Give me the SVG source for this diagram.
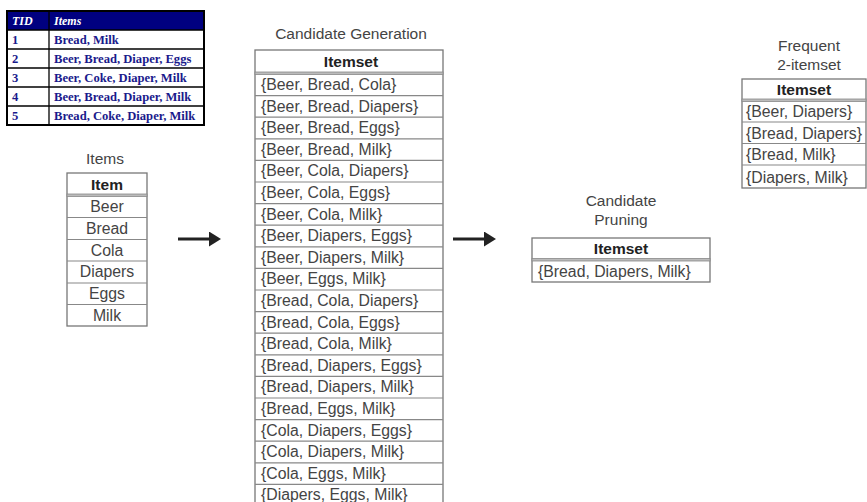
<svg xmlns="http://www.w3.org/2000/svg" width="867" height="502" viewBox="0 0 867 502">
  <style>
    .t { font-family: "Liberation Sans", Arial, sans-serif; font-size: 15.8px; fill: #444; }
    .title { font-family: "Liberation Sans", Arial, sans-serif; font-size: 15.5px; fill: #444; text-anchor: middle; }
    .hd { font-family: "Liberation Sans", Arial, sans-serif; font-size: 15.5px; font-weight: bold; fill: #222; text-anchor: middle; }
    .c { text-anchor: middle; }
    .frame { fill: #fff; stroke: #777; stroke-width: 1.3; }
    .row { stroke: #888; stroke-width: 1.2; }
    .dbl { fill: #bbb; stroke: #888; stroke-width: 0.8; }
    .tid { font-family: "Liberation Serif", "Times New Roman", serif; font-size: 12.6px; font-weight: bold; fill: #1a1a8c; }
    .tidh { font-family: "Liberation Serif", "Times New Roman", serif; font-size: 12px; font-weight: bold; font-style: italic; fill: #fff; }
    .tline { stroke: #000; stroke-width: 1.3; }
    .arrow { stroke: #222; stroke-width: 3; fill: none; }
  </style>
  <defs>
    <marker id="head" markerWidth="5" markerHeight="5" refX="1" refY="2.5" orient="auto" markerUnits="strokeWidth">
      <path d="M0,0 L4,2.5 L0,5 z" fill="#222"/>
    </marker>
  </defs>

  <!-- Transaction table -->
  <g id="transactions">
    <rect x="7" y="11" width="197" height="114" fill="#fff" stroke="#000" stroke-width="2"/>
    <rect x="8" y="12" width="195" height="18" fill="#000080"/>
    <line class="tline" x1="8" y1="30" x2="203" y2="30"/>
    <line class="tline" x1="8" y1="49" x2="203" y2="49"/>
    <line class="tline" x1="8" y1="68" x2="203" y2="68"/>
    <line class="tline" x1="8" y1="87" x2="203" y2="87"/>
    <line class="tline" x1="8" y1="106" x2="203" y2="106"/>
    <line class="tline" x1="49" y1="12" x2="49" y2="124"/>
    <text class="tidh" x="12" y="24.5">TID</text>
    <text class="tidh" x="54" y="24.5">Items</text>
    <text class="tid" x="12" y="43.5">1</text>
    <text class="tid" x="54" y="43.5">Bread, Milk</text>
    <text class="tid" x="12" y="62.5">2</text>
    <text class="tid" x="54" y="62.5">Beer, Bread, Diaper, Eggs</text>
    <text class="tid" x="12" y="81.5">3</text>
    <text class="tid" x="54" y="81.5">Beer, Coke, Diaper, Milk</text>
    <text class="tid" x="12" y="100.5">4</text>
    <text class="tid" x="54" y="100.5">Beer, Bread, Diaper, Milk</text>
    <text class="tid" x="12" y="119.5">5</text>
    <text class="tid" x="54" y="119.5">Bread, Coke, Diaper, Milk</text>
  </g>

  <!-- Items (1-itemsets) -->
  <g id="items">
    <text class="title" x="105" y="164">Items</text>
    <rect class="frame" x="67" y="173" width="80" height="153"/>
    <rect class="dbl" x="67" y="194" width="80" height="2.5"/>
    <line class="row" x1="67" y1="217.5" x2="147" y2="217.5"/>
    <line class="row" x1="67" y1="239.5" x2="147" y2="239.5"/>
    <line class="row" x1="67" y1="261" x2="147" y2="261"/>
    <line class="row" x1="67" y1="283" x2="147" y2="283"/>
    <line class="row" x1="67" y1="304.5" x2="147" y2="304.5"/>
    <text class="hd" x="107" y="190">Item</text>
    <text class="t c" x="107" y="212">Beer</text>
    <text class="t c" x="107" y="234">Bread</text>
    <text class="t c" x="107" y="256">Cola</text>
    <text class="t c" x="107" y="277">Diapers</text>
    <text class="t c" x="107" y="299">Eggs</text>
    <text class="t c" x="107" y="321">Milk</text>
  </g>

  <!-- Candidate generation -->
  <g id="generation">
    <text class="title" x="351" y="39">Candidate Generation</text>
    <rect class="frame" x="255" y="50" width="188" height="460"/>
    <rect class="dbl" x="255" y="72" width="188" height="2.5"/>
    <g class="row">
      <line x1="255" y1="95.6" x2="443" y2="95.6"/>
      <line x1="255" y1="117.2" x2="443" y2="117.2"/>
      <line x1="255" y1="138.8" x2="443" y2="138.8"/>
      <line x1="255" y1="160.4" x2="443" y2="160.4"/>
      <line x1="255" y1="182" x2="443" y2="182"/>
      <line x1="255" y1="203.6" x2="443" y2="203.6"/>
      <line x1="255" y1="225.2" x2="443" y2="225.2"/>
      <line x1="255" y1="246.8" x2="443" y2="246.8"/>
      <line x1="255" y1="268.4" x2="443" y2="268.4"/>
      <line x1="255" y1="290" x2="443" y2="290"/>
      <line x1="255" y1="311.6" x2="443" y2="311.6"/>
      <line x1="255" y1="333.2" x2="443" y2="333.2"/>
      <line x1="255" y1="354.8" x2="443" y2="354.8"/>
      <line x1="255" y1="376.4" x2="443" y2="376.4"/>
      <line x1="255" y1="398" x2="443" y2="398"/>
      <line x1="255" y1="419.6" x2="443" y2="419.6"/>
      <line x1="255" y1="441.2" x2="443" y2="441.2"/>
      <line x1="255" y1="462.8" x2="443" y2="462.8"/>
      <line x1="255" y1="484.4" x2="443" y2="484.4"/>
    </g>
    <text class="hd" x="351" y="67">Itemset</text>
    <text class="t" x="261" y="90">{Beer, Bread, Cola}</text>
    <text class="t" x="261" y="111.6">{Beer, Bread, Diapers}</text>
    <text class="t" x="261" y="133.2">{Beer, Bread, Eggs}</text>
    <text class="t" x="261" y="154.8">{Beer, Bread, Milk}</text>
    <text class="t" x="261" y="176.4">{Beer, Cola, Diapers}</text>
    <text class="t" x="261" y="198">{Beer, Cola, Eggs}</text>
    <text class="t" x="261" y="219.6">{Beer, Cola, Milk}</text>
    <text class="t" x="261" y="241.2">{Beer, Diapers, Eggs}</text>
    <text class="t" x="261" y="262.8">{Beer, Diapers, Milk}</text>
    <text class="t" x="261" y="284.4">{Beer, Eggs, Milk}</text>
    <text class="t" x="261" y="306">{Bread, Cola, Diapers}</text>
    <text class="t" x="261" y="327.6">{Bread, Cola, Eggs}</text>
    <text class="t" x="261" y="349.2">{Bread, Cola, Milk}</text>
    <text class="t" x="261" y="370.8">{Bread, Diapers, Eggs}</text>
    <text class="t" x="261" y="392.4">{Bread, Diapers, Milk}</text>
    <text class="t" x="261" y="414">{Bread, Eggs, Milk}</text>
    <text class="t" x="261" y="435.6">{Cola, Diapers, Eggs}</text>
    <text class="t" x="261" y="457.2">{Cola, Diapers, Milk}</text>
    <text class="t" x="261" y="478.8">{Cola, Eggs, Milk}</text>
    <text class="t" x="261" y="500.4">{Diapers, Eggs, Milk}</text>
  </g>

  <!-- Candidate pruning -->
  <g id="pruning">
    <text class="title" x="621" y="206">Candidate</text>
    <text class="title" x="621" y="225">Pruning</text>
    <rect class="frame" x="532" y="238" width="178" height="44"/>
    <rect class="dbl" x="532" y="258.5" width="178" height="2.5"/>
    <text class="hd" x="621" y="254">Itemset</text>
    <text class="t" x="538" y="276.5">{Bread, Diapers, Milk}</text>
  </g>

  <!-- Frequent 2-itemsets -->
  <g id="frequent">
    <text class="title" x="809" y="51">Frequent</text>
    <text class="title" x="809" y="70">2-itemset</text>
    <rect class="frame" x="742" y="79" width="124" height="109"/>
    <rect class="dbl" x="742" y="99" width="124" height="2.5"/>
    <line class="row" x1="742" y1="122" x2="866" y2="122"/>
    <line class="row" x1="742" y1="143.5" x2="866" y2="143.5"/>
    <line class="row" x1="742" y1="165" x2="866" y2="165"/>
    <text class="hd" x="804" y="95">Itemset</text>
    <text class="t" x="746" y="117">{Beer, Diapers}</text>
    <text class="t" x="746" y="138.5">{Bread, Diapers}</text>
    <text class="t" x="746" y="160">{Bread, Milk}</text>
    <text class="t" x="746" y="182.5">{Diapers, Milk}</text>
  </g>

  <!-- Connectors -->
  <g id="connectors">
    <line class="arrow" x1="178" y1="239" x2="212" y2="239" marker-end="url(#head)"/>
    <line class="arrow" x1="453" y1="239" x2="487" y2="239" marker-end="url(#head)"/>
  </g>
</svg>
